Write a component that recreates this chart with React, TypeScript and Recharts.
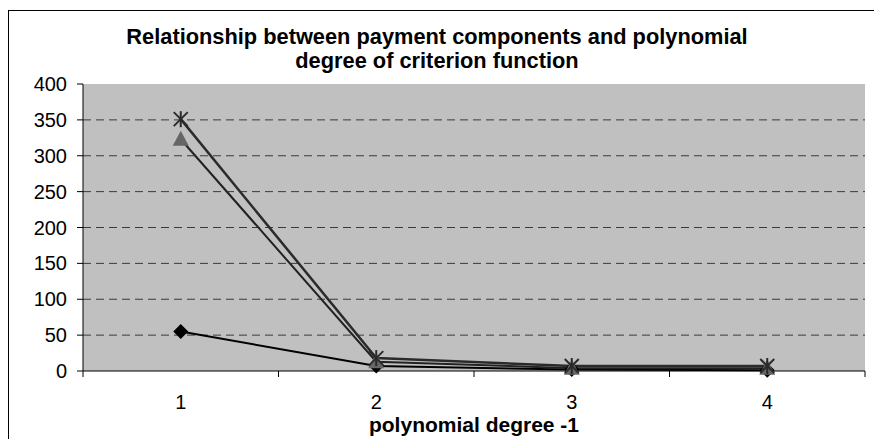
import React from "react";
import { LineChart, Line, XAxis, YAxis, CartesianGrid } from "recharts";

const degrees = [1, 2, 3, 4];
const diamondValues = [55, 7, 2, 1];
const triangleValues = [323, 13, 4, 4];
const starValues = [351, 18, 7, 7];
const yTicks = [0, 50, 100, 150, 200, 250, 300, 350, 400];
const xTicks = [0.5, 1, 1.5, 2, 2.5, 3, 3.5, 4, 4.5];

const data = degrees.map((d, i) => ({
  degree: d,
  diamond: diamondValues[i],
  triangle: triangleValues[i],
  star: starValues[i],
}));

const FONT = "'Liberation Sans', Arial, sans-serif";

function Diamond({ cx, cy }: any) {
  if (cx == null || cy == null) return null;
  const r = 7.5;
  return <polygon points={`${cx},${cy - r} ${cx + r},${cy} ${cx},${cy + r} ${cx - r},${cy}`} fill="#000" />;
}

function Triangle({ cx, cy }: any) {
  if (cx == null || cy == null) return null;
  return <polygon points={`${cx},${cy - 8.5} ${cx + 8},${cy + 6.5} ${cx - 8},${cy + 6.5}`} fill="#666" />;
}

function Star({ cx, cy }: any) {
  if (cx == null || cy == null) return null;
  const r = 7;
  return (
    <g stroke="#2a2a2a" strokeWidth={2}>
      <line x1={cx - r} y1={cy - r} x2={cx + r} y2={cy + r} />
      <line x1={cx - r} y1={cy + r} x2={cx + r} y2={cy - r} />
      <line x1={cx} y1={cy - r - 1} x2={cx} y2={cy + r + 1} />
    </g>
  );
}

function XTick({ x, y, payload }: any) {
  const v = payload.value;
  if (Number.isInteger(v)) {
    return (
      <text x={x} y={y + 38} textAnchor="middle" fontSize={20} fontFamily={FONT} fill="#000">
        {v}
      </text>
    );
  }
  return <line x1={x} y1={y} x2={x} y2={y + 6} stroke="#000" strokeWidth={1} />;
}

export default function App() {
  return (
    <div style={{ position: "absolute", left: 0, top: 0, width: 874, height: 439, overflow: "hidden", background: "#fff" }}>
      <div style={{ position: "absolute", left: 8, top: 10, width: 900, height: 500, border: "1px solid #000", boxSizing: "border-box" }} />
      <div
        style={{
          position: "absolute",
          left: 0,
          width: 874,
          top: 25,
          textAlign: "center",
          fontFamily: FONT,
          fontWeight: "bold",
          fontSize: 21.8,
          lineHeight: "24px",
          color: "#000",
        }}
      >
        <div>Relationship between payment components and polynomial</div>
        <div>degree of criterion function</div>
      </div>
      <div
        style={{
          position: "absolute",
          left: 83,
          width: 782,
          top: 413,
          textAlign: "center",
          fontFamily: FONT,
          fontWeight: "bold",
          fontSize: 21,
          lineHeight: "23px",
          color: "#000",
        }}
      >
        polynomial degree -1
      </div>
      <div style={{ position: "absolute", left: 0, top: 0 }}>
        <LineChart width={874} height={439} data={data} margin={{ top: 84, right: 9, bottom: 0, left: 23 }}>
          <CartesianGrid
            fill="#c0c0c0"
            vertical={false}
            horizontalValues={[50, 100, 150, 200, 250, 300, 350]}
            stroke="#3a3a3a"
            strokeDasharray="8 5"
          />
          <XAxis
            dataKey="degree"
            type="number"
            domain={[0.5, 4.5]}
            ticks={xTicks}
            interval={0}
            height={68}
            tickSize={0}
            tickMargin={0}
            tickLine={false}
            axisLine={{ stroke: "#000", strokeWidth: 1 }}
            tick={<XTick />}
          />
          <XAxis xAxisId="top" orientation="top" type="number" domain={[0, 1]} height={0} tick={false} tickLine={false} axisLine={{ stroke: "#808080", strokeWidth: 2 }} />
          <YAxis
            domain={[0, 400]}
            ticks={yTicks}
            interval={0}
            width={60}
            tickSize={6}
            tickMargin={10}
            axisLine={{ stroke: "#000", strokeWidth: 1 }}
            tickLine={{ stroke: "#000" }}
            tick={{ fill: "#000", fontSize: 20, fontFamily: FONT }}
          />
          <YAxis yAxisId="right" orientation="right" type="number" domain={[0, 1]} width={0} tick={false} tickLine={false} axisLine={{ stroke: "#808080", strokeWidth: 2 }} />
          <Line dataKey="diamond" stroke="#000" strokeWidth={2} dot={<Diamond />} activeDot={false} isAnimationActive={false} />
          <Line dataKey="triangle" stroke="#222" strokeWidth={2} dot={<Triangle />} activeDot={false} isAnimationActive={false} />
          <Line dataKey="star" stroke="#2a2a2a" strokeWidth={2.5} dot={<Star />} activeDot={false} isAnimationActive={false} />
        </LineChart>
      </div>
    </div>
  );
}
